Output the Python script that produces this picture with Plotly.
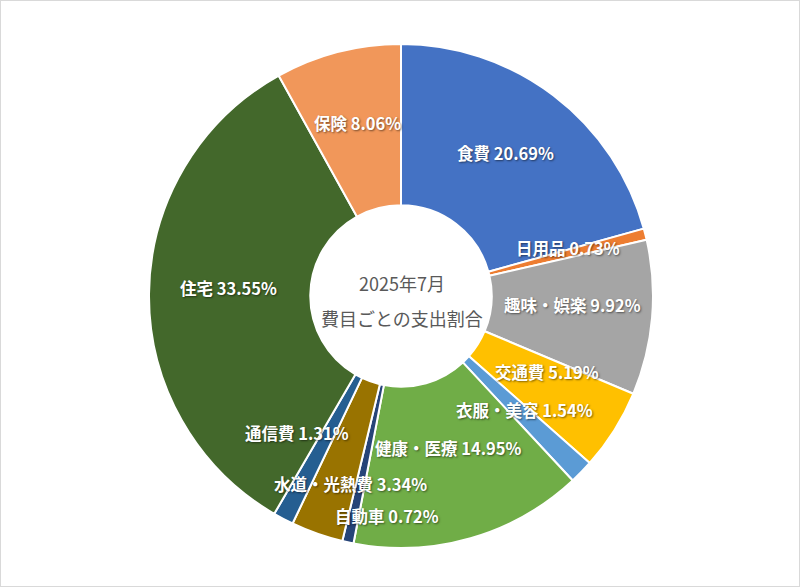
import math
import plotly.graph_objects as go

# 費目と支出割合 (%)
labels = ["食費", "日用品", "趣味・娯楽", "交通費", "衣服・美容", "健康・医療",
          "自動車", "水道・光熱費", "通信費", "住宅", "保険"]
values = [20.69, 0.73, 9.92, 5.19, 1.54, 14.95, 0.72, 3.34, 1.31, 33.55, 8.06]
colors = ["#4472C4", "#ED7D31", "#A5A5A5", "#FFC000", "#5B9BD5", "#70AD47",
          "#264478", "#997300", "#255E91", "#43682B", "#F1975A"]

W, H = 800, 587
dom_x = [0.18625, 0.81625]
dom_y = [0.0664, 0.925]
hole = 0.36

fig = go.Figure(go.Pie(
    labels=labels,
    values=values,
    sort=False,
    direction="clockwise",
    rotation=0,
    hole=hole,
    marker=dict(colors=colors, line=dict(color="white", width=2)),
    textinfo="none",
    hoverinfo="label+percent",
    domain=dict(x=dom_x, y=dom_y),
    showlegend=False,
))

# ラベル: 各扇形の中心角・リング中央に配置 (混み合う箇所だけ少しずらす)
nudge = {"交通費": (0, 10), "健康・医療": (0, 8), "通信費": (-24, 9),
         "水道・光熱費": (7, -32), "自動車": (22, -58)}
total = sum(values)
cx = (dom_x[0] + dom_x[1]) / 2
cy = (dom_y[0] + dom_y[1]) / 2
r_out_px = (dom_x[1] - dom_x[0]) * W / 2
r_mid_px = r_out_px * (1 + hole) / 2 * 1.005
cum = 0
for lab, v in zip(labels, values):
    ang = 2 * math.pi * (cum + v / 2) / total
    cum += v
    dx, dy = nudge.get(lab, (0, 0))
    fig.add_annotation(
        text=f"{lab} {v / total * 100:.2f}%",
        x=cx + r_mid_px * math.sin(ang) / W,
        y=cy + r_mid_px * math.cos(ang) / H,
        xref="paper", yref="paper", showarrow=False,
        xanchor="center", yanchor="middle",
        xshift=dx, yshift=6 + dy,
        font=dict(family="Noto Sans CJK JP", size=16.5, color="white", weight="bold",
                  shadow="1px 1px 2px rgba(0,0,0,0.5)"),
    )

# 中央のタイトル
fig.add_annotation(text="2025年7月", x=0.503, y=0.518, xref="paper", yref="paper",
                   xanchor="center", yanchor="middle", showarrow=False,
                   font=dict(family="Noto Sans CJK JP", size=18, color="#595959"))
fig.add_annotation(text="費目ごとの支出割合", x=0.503, y=0.458, xref="paper", yref="paper",
                   xanchor="center", yanchor="middle", showarrow=False,
                   font=dict(family="Noto Sans CJK JP", size=18, color="#595959"))

fig.update_layout(
    width=W, height=H,
    margin=dict(l=0, r=0, t=0, b=0),
    paper_bgcolor="white",
    shapes=[dict(type="rect", xref="paper", yref="paper", x0=0, y0=0, x1=1, y1=1,
                 line=dict(color="#D9D9D9", width=2))],
)

fig.write_html("out.html", config={"displayModeBar": False},
               post_script="document.body.style.margin = '0';")
